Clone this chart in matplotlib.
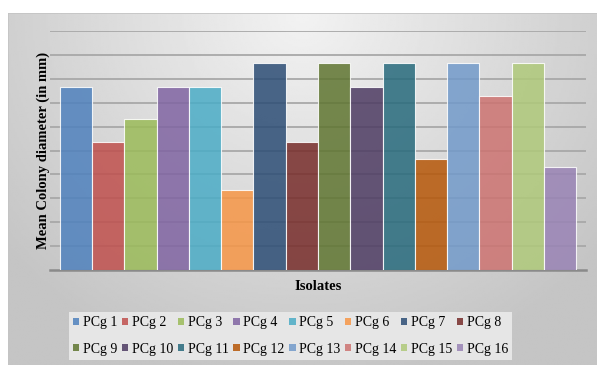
import matplotlib
matplotlib.use('Agg')
import matplotlib.pyplot as plt
import numpy as np
from matplotlib.patches import Patch

isolates = ['PCg %d' % i for i in range(1, 17)]
diameters = [7.64, 5.34, 6.31, 7.64, 7.64, 3.33, 8.66, 5.34,
             8.66, 7.64, 8.66, 4.63, 8.66, 7.29, 8.66, 4.32]
colors = ['#4F81BD', '#C0504D', '#9BBB59', '#8064A2', '#4BACC6', '#F79646',
          '#2C4D75', '#772C2A', '#5F7530', '#4D3B62', '#276A7C', '#B65708',
          '#729ACA', '#CD7371', '#AFC97A', '#9983B5']

W, H = 597, 365
fig = plt.figure(figsize=(W / 100, H / 100), dpi=100)
fig.patch.set_facecolor('white')

# gray chart area with a soft radial fade from the top middle
bg = fig.add_axes([8 / W, 0, 1 - 8 / W, (H - 13) / H])
bg.set_axis_off()
yy, xx = np.mgrid[0:1:200j, 0:1:300j]
r = np.sqrt(((xx - 0.5) * 1.6) ** 2 + (yy * 1.0) ** 2)
shade = np.clip(0.95 - 0.17 * r, 0.77, 0.95)
bg.imshow(shade, cmap='gray', vmin=0, vmax=1, aspect='auto',
          extent=[0, 1, 0, 1], origin='upper')
bg.set_xlim(0, 1)
bg.set_ylim(0, 1)
bg.axhline(1, color='#c4c4c4', lw=1.2)
bg.axvline(0, color='#c4c4c4', lw=1.2)

ax = fig.add_axes([50 / W, (H - 270) / H, 536 / W, 239 / H])
ax.patch.set_alpha(0)
x = np.arange(len(isolates))
bars = ax.bar(x, diameters, width=1.0, color=colors, alpha=0.85,
              edgecolor=(1, 1, 1, 0.55), linewidth=0.8, zorder=3)
ax.set_xlim(-0.81, 15.81)
ax.set_ylim(0, 10)
ax.set_yticks(np.arange(1, 11))
ax.yaxis.grid(True, color='#a8a8a8', lw=1.3, zorder=1)
ax.set_axisbelow(True)
ax.tick_params(left=False, bottom=False, labelleft=False, labelbottom=False)
for s in ['top', 'right', 'left']:
    ax.spines[s].set_visible(False)
ax.spines['bottom'].set_color('#8a8a8a')
ax.spines['bottom'].set_linewidth(1.8)

serif = 'Liberation Serif'
ax.set_ylabel('Mean Colony diameter (in mm)', fontsize=10.5,
              fontweight='bold', family=serif, labelpad=0)
fig.text(318 / W, 1 - 287 / H, 'Isolates', ha='center', va='center',
         fontsize=10.5, fontweight='bold', family=serif)

handles = [Patch(facecolor=c, alpha=0.85, edgecolor='none') for c in colors]
order = []
for i in range(8):
    order += [i, i + 8]
leg = fig.legend([handles[i] for i in order], [isolates[i] for i in order],
                 ncol=8, loc='center', bbox_to_anchor=(290.5 / W, 1 - 336 / H),
                 prop={'family': serif, 'size': 10}, frameon=True,
                 fancybox=False, handlelength=0.45, handleheight=0.45,
                 handletextpad=0.25, columnspacing=0.35, labelspacing=0.95,
                 borderpad=0.3, borderaxespad=0)
leg.get_frame().set_facecolor('#e6e6e6')
leg.get_frame().set_edgecolor('none')
leg.get_frame().set_alpha(1)

fig.savefig('out.png', dpi=100)
